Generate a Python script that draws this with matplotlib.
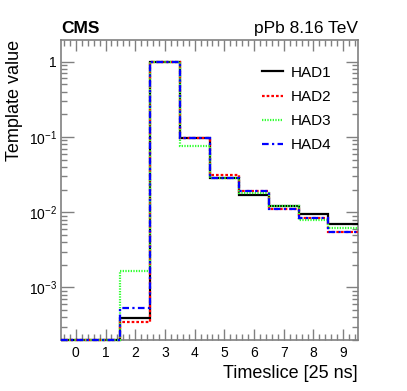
import numpy as np
import matplotlib
matplotlib.use("Agg")
import matplotlib.pyplot as plt
from matplotlib.ticker import FixedLocator, LogLocator, NullFormatter, MultipleLocator

plt.rcParams['font.family'] = ['Liberation Sans', 'DejaVu Sans']
plt.rcParams['mathtext.fontset'] = 'custom'
plt.rcParams['mathtext.rm'] = 'Liberation Sans'
plt.rcParams['mathtext.it'] = 'Liberation Sans:italic'
plt.rcParams['mathtext.bf'] = 'Liberation Sans:bold'

timeslices = [0, 1, 2, 3, 4, 5, 6, 7, 8, 9]
had1 = [0, 0, 3.9e-4, 1.0, 0.098, 0.0286, 0.0172, 0.0121, 0.0094, 0.0069]
had2 = [0, 0, 3.5e-4, 1.0, 0.098, 0.0311, 0.0190, 0.0112, 0.0084, 0.0055]
had3 = [0, 0, 1.63e-3, 1.0, 0.0766, 0.0286, 0.0180, 0.0121, 0.0078, 0.0061]
had4 = [0, 0, 5.25e-4, 1.0, 0.096, 0.0286, 0.0190, 0.0112, 0.0084, 0.0055]
labels = ["HAD1", "HAD2", "HAD3", "HAD4"]
ytick_vals = [1e-3, 1e-2, 1e-1, 1]
ytick_labels = ["$10^{-3}$", "$10^{-2}$", "$10^{-1}$", "1"]

ymin, ymax = 2e-4, 1.95
gray = "#808080"

fig = plt.figure(figsize=(4.07, 3.91), dpi=100)
ax = fig.add_axes([61/407, 1-340/391, (358-61)/407, (340-40)/391])

edges = np.arange(len(timeslices) + 1) - 0.5
styles = [
    dict(color="black", linestyle="-", lw=1.6),
    dict(color="#ff0000", linestyle=(0, (1.2, 0.9)), lw=1.6),
    dict(color="#33ff33", linestyle=(0, (0.6, 0.6)), lw=1.6),
    dict(color="#0000ff", linestyle=(0, (3, 1.5, 1, 1.5)), lw=1.6),
]
for vals, lab, st in zip([had1, had2, had3, had4], labels, styles):
    v = np.maximum(np.array(vals, dtype=float), ymin)
    ax.stairs(v, edges, baseline=None, label=lab, zorder=3, clip_on=False, **st)

ax.set_yscale("log")
ax.set_xlim(-0.5, 9.5)
ax.set_ylim(ymin, ymax)

ax.xaxis.set_major_locator(FixedLocator(timeslices))
ax.xaxis.set_minor_locator(MultipleLocator(0.2))
ax.yaxis.set_major_locator(FixedLocator(ytick_vals))
ax.set_yticklabels(ytick_labels)
ax.yaxis.set_minor_locator(LogLocator(base=10, subs=np.arange(2, 10)))
ax.yaxis.set_minor_formatter(NullFormatter())

for sp in ax.spines.values():
    sp.set_color(gray)
    sp.set_linewidth(1.2)
ax.tick_params(which="both", direction="in", top=True, right=True, color=gray,
               labelsize=10, labelcolor="black")
ax.tick_params(axis="x", which="major", length=8, width=1, pad=4)
ax.tick_params(axis="x", which="minor", length=4, width=1)
ax.tick_params(axis="y", which="major", length=9, width=1, pad=3)
ax.tick_params(axis="y", which="minor", length=4.5, width=1)

ax.set_xlabel("Timeslice [25 ns]", fontsize=13, loc="right")
ax.set_ylabel("Template value", fontsize=13, loc="top")

ax.text(0.0, 1.012, "CMS", transform=ax.transAxes, fontsize=12.5,
        fontweight="bold", ha="left", va="bottom")
ax.text(1.0, 1.012, "pPb 8.16 TeV", transform=ax.transAxes, fontsize=12.5,
        ha="right", va="bottom")

leg = ax.legend(loc="upper right", bbox_to_anchor=(0.955, 0.96), frameon=False,
                fontsize=11, handlelength=1.4, handletextpad=0.45,
                labelspacing=0.67)

fig.savefig("out.png", dpi=100)
